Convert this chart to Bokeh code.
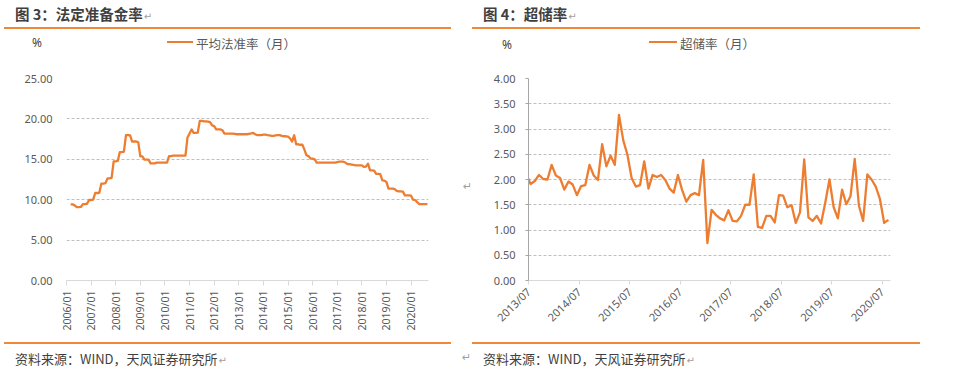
import numpy as np
from math import pi
from bokeh.plotting import figure
from bokeh.layouts import row, column
from bokeh.models import FixedTicker, Range1d, Div
from bokeh.embed import file_html
from bokeh.resources import INLINE

# ---------------- data ----------------
# Figure 3: average required reserve ratio (monthly), first value = 2006/03
rrr_start_month = 2  # months after 2006/01
rrr_2006 = [9.42, 9.42, 9.30, 9.09, 9.09, 9.10, 9.46, 9.46, 9.50, 9.96]
rrr_2007 = [9.96, 10.00, 10.83, 10.83, 10.85, 12.00, 12.00, 12.05, 12.64, 12.64, 12.70, 14.75]
rrr_2008 = [14.75, 14.80, 15.90, 15.90, 15.95, 18.00, 18.00, 17.95, 17.20, 17.20, 17.20, 17.10]
rrr_2009 = [15.37, 15.37, 14.96, 14.96, 14.96, 14.50, 14.50, 14.50, 14.59, 14.59, 14.59, 14.59]
rrr_2010 = [14.59, 14.60, 15.40, 15.40, 15.45, 15.45, 15.45, 15.45, 15.45, 15.45, 15.45, 17.70]
rrr_2011 = [18.20, 18.70, 18.26, 18.26, 18.30, 19.75, 19.75, 19.70, 19.70, 19.65, 19.60, 19.20]
rrr_2012 = [19.10, 18.70, 18.70, 18.70, 18.60, 18.18, 18.18, 18.18, 18.18, 18.18, 18.15, 18.10]
rrr_2013 = [18.10, 18.10, 18.10, 18.10, 18.10, 18.15, 18.20, 18.26, 18.10, 17.98, 17.98, 18.00]
rrr_2014 = [18.06, 18.06, 18.00, 17.95, 17.90, 17.90, 17.95, 17.98, 17.98, 17.90, 17.85, 17.85]
rrr_2015 = [17.80, 17.60, 17.20, 17.98, 16.86, 16.86, 16.80, 16.80, 16.20, 15.50, 15.40, 15.08]
rrr_2016 = [15.08, 15.00, 14.60, 14.59, 14.59, 14.59, 14.59, 14.59, 14.59, 14.59, 14.59, 14.59]
rrr_2017 = [14.65, 14.70, 14.70, 14.70, 14.60, 14.40, 14.40, 14.35, 14.30, 14.26, 14.26, 14.26]
rrr_2018 = [14.26, 14.05, 14.10, 14.46, 13.64, 13.64, 13.60, 13.20, 13.20, 13.15, 12.40, 12.36]
rrr_2019 = [12.20, 11.36, 11.36, 11.36, 11.30, 11.10, 11.03, 11.03, 11.00, 10.54, 10.54, 10.54]
rrr_2020 = [10.50, 10.00, 9.96, 9.70, 9.46, 9.46, 9.46, 9.46, 9.46]
rrr_values = (rrr_2006 + rrr_2007 + rrr_2008 + rrr_2009 + rrr_2010 + rrr_2011 + rrr_2012 +
              rrr_2013 + rrr_2014 + rrr_2015 + rrr_2016 + rrr_2017 + rrr_2018 + rrr_2019 + rrr_2020)
rrr_tick_labels = ["2006/01", "2007/01", "2008/01", "2009/01", "2010/01", "2011/01", "2012/01",
                   "2013/01", "2014/01", "2015/01", "2016/01", "2017/01", "2018/01", "2019/01", "2020/01"]
rrr_y_ticks = [0, 5, 10, 15, 20, 25]
rrr_y_labels = ["0.00", "5.00", "10.00", "15.00", "20.00", "25.00"]

# Figure 4: excess reserve ratio (monthly), first value = 2013/06
excess_start_month = -1  # months after 2013/07
excess_values = [2.10,
                 1.91, 1.97, 2.09, 2.01, 2.00, 2.29,
                 2.08, 2.03, 1.80, 1.96, 1.90, 1.69, 1.87, 1.89, 2.29, 2.08, 1.99, 2.70,
                 2.26, 2.47, 2.29, 3.28, 2.78, 2.49, 2.03, 1.86, 1.89, 2.36, 1.82, 2.09,
                 2.05, 2.09, 1.99, 1.82, 1.74, 2.09, 1.79, 1.56, 1.69, 1.73, 1.69, 2.39,
                 0.74, 1.40, 1.30, 1.23, 1.19, 1.39, 1.18, 1.17, 1.28, 1.50, 1.50, 2.10,
                 1.06, 1.04, 1.28, 1.28, 1.15, 1.69, 1.68, 1.45, 1.49, 1.14, 1.35, 2.40,
                 1.25, 1.18, 1.28, 1.13, 1.54, 2.00, 1.45, 1.23, 1.80, 1.51, 1.67, 2.41,
                 1.48, 1.18, 2.10, 2.00, 1.86, 1.61, 1.14, 1.20]
excess_tick_labels = ["2013/07", "2014/07", "2015/07", "2016/07", "2017/07", "2018/07", "2019/07", "2020/07"]
excess_y_ticks = [0, 0.5, 1.0, 1.5, 2.0, 2.5, 3.0, 3.5, 4.0]
excess_y_labels = ["0.00", "0.50", "1.00", "1.50", "2.00", "2.50", "3.00", "3.50", "4.00"]

# text
title_left = "图 3：法定准备金率"
title_right = "图 4：超储率"
legend_left = "平均法准率（月）"
legend_right = "超储率（月）"
unit_label = "%"
source_text = "资料来源：WIND，天风证券研究所"
para_mark = "↵"

# ---------------- style ----------------
FONT_CJK = "Noto Sans CJK SC"
FONT_NUM = "Noto Sans"
ORANGE = "#ED7D31"
RULE = "#F0883A"
GRID = "#BFBFBF"
TXT = "#595959"
DARK = "#3F3F3F"
MARK = "#A0A0A0"

TOP_H = 60      # header strip (titles, rules, legends)
MID_H = 275     # charts
BOT_H = 45      # footer strip (rules, source)
W_LEFT = 455
W_GAP = 26
W_RIGHT = 481


def mark_span(size):
    return ('<span style="color:%s;font-family:\'DejaVu Sans\';font-weight:normal;font-size:%spx;'
            'margin-left:1px;">%s</span>' % (MARK, size, para_mark))


def txt(x, cy, text, size, color, font=FONT_CJK, bold=False):
    lh = int(round(size * 1.5))
    return ('<div style="position:absolute;left:%.1fpx;top:%.1fpx;height:%dpx;line-height:%dpx;'
            'font-size:%spx;color:%s;font-family:\'%s\';font-weight:%s;white-space:nowrap;">%s</div>'
            % (x, cy - lh / 2, lh, lh, size, color, font, "bold" if bold else "normal", text))


def bar(x0, x1, cy, th, color):
    return ('<div style="position:absolute;left:%.1fpx;top:%.2fpx;width:%.1fpx;height:%.2fpx;'
            'background:%s;"></div>' % (x0, cy - th / 2, x1 - x0, th, color))


def strip(w, h, parts):
    html = ('<div style="position:relative;width:%dpx;height:%dpx;overflow:visible;">%s</div>'
            % (w, h, "".join(parts)))
    return Div(text=html, width=w, height=h, margin=(0, 0, 0, 0))


def base_fig(w, xr, yr, bl, br, bt, bb):
    p = figure(width=w, height=MID_H, x_range=Range1d(*xr), y_range=Range1d(*yr),
               output_backend="svg", toolbar_location=None,
               min_border_left=bl, min_border_right=br, min_border_top=bt, min_border_bottom=bb)
    p.outline_line_color = None
    p.background_fill_color = "white"
    p.border_fill_color = "white"
    p.xgrid.grid_line_color = None
    p.ygrid.grid_line_color = GRID
    p.ygrid.grid_line_dash = "3 2"
    p.ygrid.grid_line_width = 1
    for ax in (p.xaxis[0], p.yaxis[0]):
        ax.minor_tick_line_color = None
        ax.major_label_text_color = TXT
        ax.major_label_text_font = FONT_NUM
    return p


# ---------------- figure 3 ----------------
# frame: x 66..428, y 78..280 (page pixels)
p1 = base_fig(W_LEFT, (0, 176.5), (0, 25), 66, W_LEFT - 66 - 362, 78 - TOP_H, MID_H - (78 - TOP_H) - 202)
rrr_x = rrr_start_month + np.arange(len(rrr_values))
p1.line(x=rrr_x, y=rrr_values, line_color=ORANGE, line_width=2.3, line_join="round")

p1.yaxis.ticker = FixedTicker(ticks=rrr_y_ticks)
p1.yaxis.major_label_overrides = {t: l for t, l in zip(rrr_y_ticks, rrr_y_labels)}
p1.yaxis.axis_line_color = None
p1.yaxis.major_tick_line_color = None
p1.yaxis.major_tick_out = 0
p1.yaxis.major_tick_in = 0
p1.yaxis.major_label_standoff = 14
p1.yaxis.major_label_text_font_size = "11px"

rrr_tick_pos = [12 * i for i in range(len(rrr_tick_labels))]
p1.xaxis.ticker = FixedTicker(ticks=rrr_tick_pos)
p1.xaxis.major_label_overrides = {t: l for t, l in zip(rrr_tick_pos, rrr_tick_labels)}
p1.xaxis.major_label_orientation = pi / 2
p1.xaxis.axis_line_color = "#D9D9D9"
p1.xaxis.major_tick_line_color = "#D9D9D9"
p1.xaxis.major_tick_out = 5
p1.xaxis.major_tick_in = 0
p1.xaxis.major_label_standoff = 5
p1.xaxis.major_label_text_font_size = "10.5px"

# ---------------- figure 4 ----------------
# frame: x 528..890, y 78..283 (page pixels)
fl2 = 528 - (W_LEFT + W_GAP)
p2 = base_fig(W_RIGHT, (0, 86), (0, 4), fl2, W_RIGHT - fl2 - 362, 78 - TOP_H, MID_H - (78 - TOP_H) - 205)
ex_x = excess_start_month + 0.5 + np.arange(len(excess_values))
p2.line(x=ex_x, y=excess_values, line_color=ORANGE, line_width=2.3, line_join="round")

p2.yaxis.ticker = FixedTicker(ticks=excess_y_ticks)
p2.yaxis.major_label_overrides = {t: l for t, l in zip(excess_y_ticks, excess_y_labels)}
p2.yaxis.axis_line_color = "#A6A6A6"
p2.yaxis.major_tick_line_color = "#A6A6A6"
p2.yaxis.major_tick_out = 3
p2.yaxis.major_tick_in = 0
p2.yaxis.major_label_standoff = 10
p2.yaxis.major_label_text_font_size = "11px"

ex_tick_pos = [12 * i for i in range(len(excess_tick_labels))]
p2.xaxis.ticker = FixedTicker(ticks=ex_tick_pos)
p2.xaxis.major_label_overrides = {t: l for t, l in zip(ex_tick_pos, excess_tick_labels)}
p2.xaxis.major_label_orientation = pi / 4
p2.xaxis.axis_line_color = "#D9D9D9"
p2.xaxis.major_tick_line_color = "#D9D9D9"
p2.xaxis.major_tick_out = 4
p2.xaxis.major_tick_in = 0
p2.xaxis.major_label_standoff = 5
p2.xaxis.major_label_text_font_size = "11px"

# ---------------- header / footer strips ----------------
W_ALL = W_LEFT + W_GAP + W_RIGHT
header = strip(W_ALL, TOP_H, [
    txt(15, 14, title_left + mark_span(10), 14.5, DARK, bold=True),
    bar(4, 451, 28, 1.5, RULE),
    txt(32, 43, unit_label, 12, DARK, font=FONT_NUM),
    bar(167, 193, 42, 2.3, ORANGE),
    txt(196, 43, legend_left, 12.5, TXT),
    txt(483, 14, title_right + mark_span(10), 14.5, DARK, bold=True),
    bar(472, 920, 28, 1.5, RULE),
    txt(502, 45, unit_label, 12, DARK, font=FONT_NUM),
    bar(649, 677, 42, 2.3, ORANGE),
    txt(680, 43, legend_right, 12.5, TXT),
])
gap = strip(W_GAP, MID_H, [txt(463 - W_LEFT, 187 - TOP_H, para_mark, 11, MARK, font="DejaVu Sans")])
y0 = TOP_H + MID_H
footer = strip(W_ALL, BOT_H, [
    bar(4, 451, 343 - y0, 1.5, RULE),
    txt(15, 359 - y0, source_text + mark_span(10), 13, DARK),
    txt(462, 358 - y0, para_mark, 11, MARK, font="DejaVu Sans"),
    bar(472, 920, 343 - y0, 1.5, RULE),
    txt(483, 359 - y0, source_text + mark_span(10), 13, DARK),
])

layout = column(header, row(p1, gap, p2, spacing=0), footer, spacing=0)
open("out.html", "w").write(file_html(layout, INLINE))
